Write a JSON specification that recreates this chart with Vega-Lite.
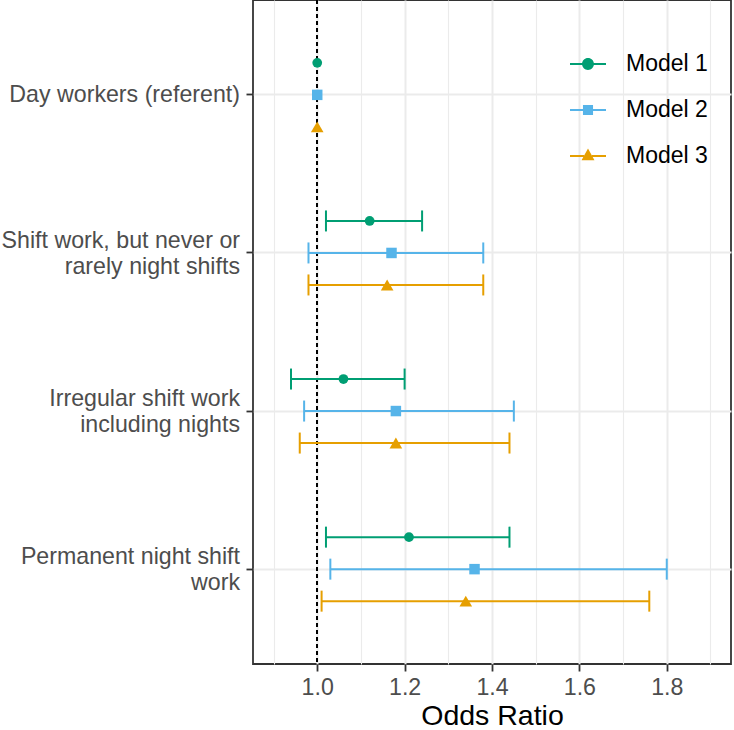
{
  "$schema": "https://vega.github.io/schema/vega-lite/v6.json",
  "width": 478,
  "height": 664,
  "autosize": {"type": "none"},
  "padding": {"left": 253, "top": 0, "right": 3, "bottom": 66},
  "config": {
    "font": "Liberation Sans",
    "view": {"stroke": "#333333", "strokeWidth": 1.8},
    "axis": {
      "domain": false,
      "gridColor": "#EBEBEB",
      "tickColor": "#333333",
      "tickWidth": 1.8,
      "tickSize": 7,
      "labelColor": "#4D4D4D",
      "labelFontSize": 23.2,
      "labelFont": "Liberation Sans",
      "titleFont": "Liberation Sans"
    },
    "legend": {"labelFont": "Liberation Sans"}
  },
  "data": {
    "values": [
      {"exposure": "Day workers (referent)", "model": "Model 1", "or": 1.0, "lo": null, "hi": null},
      {"exposure": "Day workers (referent)", "model": "Model 2", "or": 1.0, "lo": null, "hi": null},
      {"exposure": "Day workers (referent)", "model": "Model 3", "or": 1.0, "lo": null, "hi": null},
      {"exposure": "Shift work, but never or rarely night shifts", "model": "Model 1", "or": 1.12, "lo": 1.02, "hi": 1.24},
      {"exposure": "Shift work, but never or rarely night shifts", "model": "Model 2", "or": 1.17, "lo": 0.98, "hi": 1.38},
      {"exposure": "Shift work, but never or rarely night shifts", "model": "Model 3", "or": 1.16, "lo": 0.98, "hi": 1.38},
      {"exposure": "Irregular shift work including nights", "model": "Model 1", "or": 1.06, "lo": 0.94, "hi": 1.2},
      {"exposure": "Irregular shift work including nights", "model": "Model 2", "or": 1.18, "lo": 0.97, "hi": 1.45},
      {"exposure": "Irregular shift work including nights", "model": "Model 3", "or": 1.18, "lo": 0.96, "hi": 1.44},
      {"exposure": "Permanent night shift work", "model": "Model 1", "or": 1.21, "lo": 1.02, "hi": 1.44},
      {"exposure": "Permanent night shift work", "model": "Model 2", "or": 1.36, "lo": 1.03, "hi": 1.8},
      {"exposure": "Permanent night shift work", "model": "Model 3", "or": 1.34, "lo": 1.01, "hi": 1.76}
    ]
  },
  "layer": [
    {
      "mark": {"type": "rule", "strokeDash": [4, 3], "strokeWidth": 1.2, "color": "#000000"},
      "encoding": {"x": {"datum": 1}}
    },
    {
      "encoding": {
        "y": {
          "field": "exposure",
          "type": "nominal",
          "sort": ["Day workers (referent)", "Shift work, but never or rarely night shifts", "Irregular shift work including nights", "Permanent night shift work"],
          "scale": {"type": "band", "paddingInner": 0, "paddingOuter": 0.1},
          "axis": {
            "title": null,
            "grid": true,
            "gridWidth": 2,
            "bandPosition": 0.5,
            "labelExpr": "datum.value == 'Shift work, but never or rarely night shifts' ? ['Shift work, but never or', 'rarely night shifts'] : datum.value == 'Irregular shift work including nights' ? ['Irregular shift work', 'including nights'] : datum.value == 'Permanent night shift work' ? ['Permanent night shift', 'work'] : datum.value",
            "labelLineHeight": 26,
            "labelOffset": {"condition": {"test": "datum.value != 'Day workers (referent)'", "value": -12}, "value": 0},
            "labelPadding": 6.5,
            "labelLimit": 0
          }
        },
        "yOffset": {"field": "model", "type": "nominal", "scale": {"paddingInner": 0, "paddingOuter": 0.97}},
        "color": {
          "field": "model",
          "type": "nominal",
          "scale": {"domain": ["Model 3", "Model 2", "Model 1"], "range": ["#E69F00", "#56B4E9", "#009E73"]},
          "legend": null
        }
      },
      "layer": [
        {
          "transform": [{"filter": "isValid(datum.lo)"}],
          "mark": {"type": "rule", "strokeWidth": 2},
          "encoding": {
            "x": {
              "field": "lo",
              "type": "quantitative",
              "scale": {"domain": [0.853, 1.947], "nice": false, "zero": false},
              "axis": {
                "title": "Odds Ratio",
                "titleFontSize": 28.5,
                "titleColor": "#000000",
                "titleFontWeight": "normal",
                "titlePadding": 3,
                "values": [0.9, 1.0, 1.1, 1.2, 1.3, 1.4, 1.5, 1.6, 1.7, 1.8, 1.9],
                "labelExpr": "round(datum.value * 10) % 2 == 1 ? '' : format(datum.value, '.1f')",
                "tickOpacity": {"condition": {"test": "round(datum.value * 10) % 2 == 1", "value": 0}, "value": 1},
                "grid": true,
                "gridWidth": {"condition": {"test": "round(datum.value * 10) % 2 == 1", "value": 1.1}, "value": 2},
                "labelPadding": 5,
                "labelOverlap": false,
                "labelFlush": false
              }
            },
            "x2": {"field": "hi"}
          }
        },
        {
          "transform": [{"filter": "isValid(datum.lo)"}],
          "mark": {"type": "point", "shape": "M0,-1L0,1", "size": 441, "filled": false, "strokeWidth": 2, "opacity": 1},
          "encoding": {"x": {"field": "lo", "type": "quantitative"}}
        },
        {
          "transform": [{"filter": "isValid(datum.hi)"}],
          "mark": {"type": "point", "shape": "M0,-1L0,1", "size": 441, "filled": false, "strokeWidth": 2, "opacity": 1},
          "encoding": {"x": {"field": "hi", "type": "quantitative"}}
        },
        {
          "transform": [{"filter": "datum.model == 'Model 1'"}],
          "mark": {"type": "point", "shape": "circle", "size": 95, "filled": true, "opacity": 1, "strokeWidth": 0},
          "encoding": {"x": {"field": "or", "type": "quantitative"}}
        },
        {
          "transform": [{"filter": "datum.model == 'Model 2'"}],
          "mark": {"type": "point", "shape": "square", "size": 110, "filled": true, "opacity": 1, "strokeWidth": 0},
          "encoding": {"x": {"field": "or", "type": "quantitative"}}
        },
        {
          "transform": [{"filter": "datum.model == 'Model 3'"}],
          "mark": {"type": "point", "shape": "triangle-up", "size": 160, "filled": true, "opacity": 1, "strokeWidth": 0},
          "encoding": {"x": {"field": "or", "type": "quantitative"}}
        },
        {
          "transform": [{"filter": "datum.exposure == 'Day workers (referent)'"}],
          "mark": {"type": "point", "filled": true, "opacity": 0},
          "encoding": {
            "x": {"field": "or", "type": "quantitative"},
            "shape": {
              "field": "model",
              "type": "nominal",
              "scale": {
                "domain": ["Model 1", "Model 2", "Model 3"],
                "range": [
                  "M-1,-0.05L-0.32,-0.05L-0.32,0.05L-1,0.05Z M0.32,-0.05L1,-0.05L1,0.05L0.32,0.05Z M0.33,0A0.33,0.33,0,1,1,-0.33,0A0.33,0.33,0,1,1,0.33,0Z",
                  "M-1,-0.05L-0.28,-0.05L-0.28,0.05L-1,0.05Z M0.28,-0.05L1,-0.05L1,0.05L0.28,0.05Z M-0.28,-0.28L0.28,-0.28L0.28,0.28L-0.28,0.28Z",
                  "M-1,-0.05L-0.22,-0.05L-0.22,0.05L-1,0.05Z M0.22,-0.05L1,-0.05L1,0.05L0.22,0.05Z M0,-0.42L0.36,0.24L-0.36,0.24Z"
                ]
              },
              "legend": {
                "title": null,
                "orient": "none",
                "legendX": 317,
                "legendY": 46,
                "padding": 0,
                "symbolSize": 1296,
                "symbolStrokeWidth": 0,
                "symbolOpacity": 1,
                "labelFontSize": 23,
                "labelColor": "#000000",
                "labelOffset": 20,
                "rowPadding": 16
              }
            },
            "fill": {
              "field": "model",
              "type": "nominal",
              "scale": {"domain": ["Model 1", "Model 2", "Model 3"], "range": ["#009E73", "#56B4E9", "#E69F00"]},
              "legend": {
                "title": null,
                "orient": "none",
                "legendX": 317,
                "legendY": 46,
                "padding": 0,
                "symbolSize": 1296,
                "symbolStrokeWidth": 0,
                "symbolOpacity": 1,
                "labelFontSize": 23,
                "labelColor": "#000000",
                "labelOffset": 20,
                "rowPadding": 16
              }
            }
          }
        }
      ]
    }
  ]
}
